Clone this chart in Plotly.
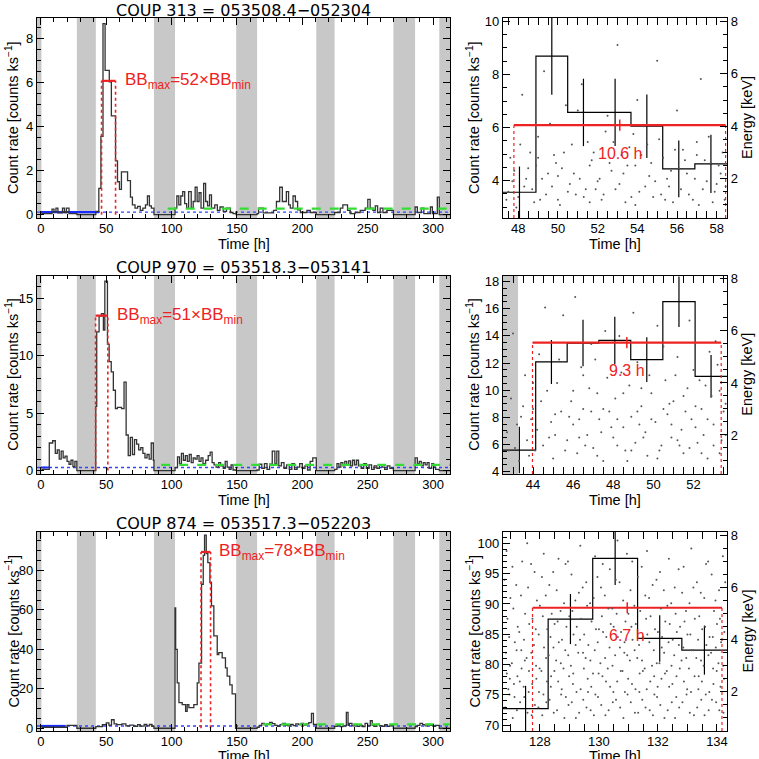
import plotly.graph_objects as go

# ------------------------------------------------------------------ data
gap_bands = [(-3.0, 0.4), (27.5, 42.0), (86.5, 102.6), (149.4, 165.4),
             (210.7, 224.7), (269.7, 286.3), (304.8, 313.0)]

titles = ["COUP 313 = 053508.4\u2212052304",
          "COUP 970 = 053518.3\u2212053141",
          "COUP 874 = 053517.3\u2212052203"]
bb_ratio = [52, 51, 78]
bb_max = [6.09, 13.5, 89.38]
# block limits as drawn on the zoomed (right) panels
bb_t1 = [47.78, 43.97, 127.75]
bb_t2 = [58.45, 53.38, 134.17]
# block limits as drawn on the full light curves (left panels)
bbL_t1 = [46.4, 41.8, 122.5]
bbL_t2 = [57.1, 51.2, 129.8]
bb_text_t = [62.6, 57.0, 135.0]
blue_end = [44.5, 6.4, 19.0]
green_level = [0.28, 0.5, 2.0]
green_start = [97.0, 92.0, 170.0]
dur_text = ["10.6 h", "9.3 h", "6.7 h"]

# COUP 313 light curve (block edges, rates)
lc313_t = [0.4, 8.5, 10, 11.5, 13, 16.5, 18, 19.5, 21.5, 27.5, 42.0, 44.3, 45.9, 47.5,
           49.1, 52.3, 53.9, 57.1, 58.6, 60.1, 61.6, 66.3, 68.5, 70, 72, 74, 76,
           78, 80, 81.5, 83, 84.5, 86.5, 102.6, 104, 105.5, 107, 108.5, 110, 111.5, 113,
           115, 116.5, 118, 119.5, 121, 122.5, 124.5, 126, 127.5, 129, 130.5, 133, 135,
           137, 139.5, 142, 145, 147, 149.4, 165.4, 166.5, 170, 178, 180.2, 182.7, 184.7,
           187.8, 189.5, 190.8, 192.9, 194.7, 196.4, 198.5, 203.5, 206.1, 210.7, 224.7,
           229, 231, 234.6, 236.6, 240.4, 244.3, 248.1, 250.1, 251.9, 254, 255.8, 257.6,
           259.6, 261.7, 264.7, 269.7, 286.3, 288, 291, 293, 298, 299.5, 303.3, 304.8, 313]
lc313_v = [0.05, 0.25, 0.12, 0.3, 0.08, 0.3, 0.1, 0.3, 0.05, 0, 0.15, 1.2, 3.56, 8.69,
           6.57, 6.05, 4.5, 2.45, 1.5, 1.15, 1.95, 1.55, 0.8, 0.45, 0.3, 0.38, 0.2,
           0.3, 0.45, 0.85, 0.4, 0.3, 0, 0.3, 0.85, 0.45, 0.85, 1.05, 0.5, 0.3, 1.05,
           0.3, 0.6, 1.25, 0.6, 1.0, 0.3, 1.42, 0.6, 0.4, 0.9, 0.3, 0.45, 0.2,
           0.35, 0.15, 0.3, 0.1, 0.05, 0, 0.05, 0.3, 0.08, 0.2, 0.6, 1.25, 0.6,
           1.05, 0.45, 0.3, 0.85, 0.6, 0.22, 0.1, 0.2, 0.1, 0, 0.1,
           0.3, 0.45, 0.2, 0.05, 0.1, 0.2, 0.3, 0.7, 0.3, 0.2, 0.4, 0.1,
           0.3, 0.1, 0.2, 0, 0.35, 0.1, 0.3, 0.05, 0.35, 0.05, 0.8, 0]

# COUP 970 light curve
lc970_t = [0.4, 6.4, 9, 11, 12.5, 14, 15.5, 17, 18.5, 20, 21.5, 23, 24.5, 26, 27.5, 42.0,
           42.7, 44.5, 46.3, 47.8, 48.9, 50.9, 52.2, 53.8, 55.4, 57.0, 58.5, 61.7,
           63.6, 65.2, 66.8, 68.4, 70, 71.6, 73.2, 74.8, 76.4, 78, 79.6, 81.2, 82.8, 84.4,
           86, 86.5, 102.6, 104.5, 106, 107.5, 109, 110.5, 112, 113.5, 115, 116.5, 118,
           119.5, 121, 122.5, 124, 126, 128, 129.5, 131, 132.5, 134, 136, 137.5, 139.5,
           141, 142.5, 144, 145.5, 147, 149.4, 165.4, 167, 169, 171, 173, 175, 177, 179,
           180.5, 182, 184, 186, 188, 190, 192, 194, 196, 198, 200, 202, 204, 206, 208,
           210.7, 224.7, 226.5, 228, 229.5, 231, 232.5, 234, 235.5, 237, 238.5, 240, 241.5,
           243, 245, 247, 249, 251, 253, 255, 257, 259, 261, 263, 265, 267, 269.7, 286.3,
           288, 289.5, 291, 292.5, 294, 295.5, 297, 299, 300.5, 302, 304.8, 313]
lc970_v = [0.1, 2.4, 2.6, 1.5, 1.8, 1.0, 1.7, 1.1, 1.25, 0.8, 0.55, 0.9, 0.35, 0.8, 0, 5.59,
           12.08, 13.47, 13.67, 12.25, 16.51, 11.02, 9.5, 8.6, 7.0, 5.4, 5.5,
           5.4, 7.7, 3.1, 1.3, 2.9, 1.4, 2.7, 2.3, 1.8, 2.0, 1.5, 1.1, 1.4, 1.0, 2.4,
           0.9, 0, 0.25, 1.2, 0.6, 1.5, 0.9, 1.3, 0.8, 1.4, 0.7, 1.1, 1.0,
           1.3, 0.8, 1.1, 0.6, 0.9, 1.3, 1.6, 0.7, 0.5, 0.3, 0.7, 0.4, 0.2,
           0.8, 0.3, 0.1, 0.5, 0.05, 0, 0.05, 0.55, 0.2, 0.6, 0.1, 0.55, 1.7, 0.6,
           1.7, 0.4, 0.7, 0.2, 0.5, 0.1, 0.6, 0.1, 0.3, 0.6, 0.2, 0.4, 0.05, 0.8, 1.1,
           0, 0.1, 0.6, 0.3, 0.7, 0.4, 0.8, 0.5, 0.85, 0.4, 0.9, 0.5, 0.9,
           0.4, 0.2, 0.6, 0.2, 0.5, 0.1, 0.4, 0.2, 0.5, 0.3, 0.1, 0.4, 0.2, 0, 1.1,
           0.6, 0.8, 0.4, 0.7, 0.5, 0.7, 0.2, 0.6, 0.3, 0.1, 0]

# COUP 874 light curve
lc874_t = [0.4, 20, 27.5, 42.0, 47, 50, 52, 54, 56, 58, 62, 65, 68, 71, 74, 76, 79, 81, 83,
           85, 86.5, 102.6, 103.1, 104.3, 105.6, 108.1, 110.7, 111.9, 113.2, 117, 119.6,
           120.9, 122.9, 124.2, 125.2, 126.5, 127.7, 129.3, 130.5, 132.3, 134.9, 136.1,
           138.7, 141.2, 142.5, 144.5, 146.3, 148.9, 165.4, 167, 169,
           171, 173, 175, 177, 179, 181, 183, 185, 187, 189, 191, 193, 195, 197, 199, 201,
           203, 205, 207, 208.5, 210.7, 224.7, 227, 229, 231, 233.7, 235, 236, 238, 240,
           242, 244, 246, 248, 250, 252, 253.5, 255, 257, 259, 261, 263, 265, 267, 269.7,
           286.3, 288, 290, 292, 294, 296, 298, 300, 302, 304.8, 313]
lc874_v = [0.5, 1.5, 0, 0.8, 1.8, 2.7, 1.6, 4.3, 2.2, 1.8, 2.2, 1.2, 1.6, 1.0, 1.8, 1.1,
           2.0, 1.2, 1.9, 1.0, 0, 61, 40, 23, 13, 12, 8.5, 12, 10.5, 12, 23,
           33, 73, 87.6, 97.9, 88.5, 84, 74, 62, 46.8, 37.4, 38.3,
           35.7, 30.6, 26.4, 22, 17.4, 0, 0.5, 1.5, 2.5,
           1.8, 2.2, 3.0, 2.3, 1.5, 1.0, 1.8, 2.5, 1.5, 1.2, 2.0, 1.3, 2.2, 1.8, 2.5, 1.6,
           2.2, 2.8, 7.5, 2.0, 0, 1.0, 1.5, 0.8, 1.2, 8.0, 1.5, 2.5, 1.2, 2.0,
           1.0, 1.5, 0.8, 2.5, 1.2, 3.8, 1.5, 1.0, 2.0, 1.3, 1.0, 1.8, 1.0, 1.5, 0,
           0.8, 1.5, 2.5, 1.8, 1.2, 2.0, 1.5, 1.0, 1.5, 0]

# Zoomed block light curves (edges, rates, 1-sigma errors)
z313_edges = [47.23, 48.89, 50.49, 52.08, 53.68, 55.28, 56.9, 58.52]
z313_rate = [3.56, 8.69, 6.57, 6.57, 6.05, 4.44, 4.63]
z313_err = [0.97, 1.45, 1.27, 1.27, 1.2, 1.07, 1.1]
z970_edges = [42.5, 44.13, 45.7, 47.28, 48.87, 50.47, 52.08, 53.67]
z970_rate = [5.59, 12.08, 13.47, 13.67, 12.25, 16.51, 11.02]
z970_err = [1.71, 1.62, 1.71, 1.74, 1.65, 1.86, 1.57]
z874_edges = [126.75, 128.28, 129.79, 131.31, 132.81, 134.34]
z874_rate = [72.75, 87.51, 97.52, 84.31, 82.39]
z874_err = [3.75, 4.13, 4.4, 3.83, 4.05]
zoom_gap = [None, (42.5, 43.25), None]

# photon arrival times [h] and energies [keV]
ev313 = [(47.4,1.2),(47.6,2.8),(47.9,0.9),(48.1,3.3),(48.3,1.7),(48.5,2.4),(48.8,1.1),(49.0,3.6),
         (49.2,2.0),(49.4,1.4),(49.6,4.1),(49.9,2.6),(50.1,1.0),(50.3,3.0),(50.6,1.8),(50.8,2.2),
         (51.0,4.6),(51.3,1.3),(51.5,3.4),(51.7,2.7),(52.0,1.9),(52.2,1.2),(52.4,3.8),(52.7,2.3),
         (52.9,1.6),(53.2,2.9),(53.4,1.1),(53.6,3.2),(53.9,2.5),(54.1,1.5),(54.3,4.0),(54.6,2.1),
         (54.8,1.3),(55.1,3.5),(55.3,2.8),(55.6,1.7),(55.8,1.1),(56.1,2.4),(56.3,3.1),(56.6,1.4),
         (56.9,2.0),(57.1,1.0),(57.4,2.7),(57.6,3.6),(57.9,1.5),(58.2,2.2),(58.4,1.2),(48.2,5.2),
         (49.3,6.1),(50.4,4.8),(51.2,5.6),(52.5,4.4),(53.0,7.1),(54.0,5.0),(55.0,6.5),(56.0,4.6),
         (57.2,5.8),(58.0,1.8),(49.8,2.9),(51.9,1.6),(53.8,3.7),(55.7,2.3),(57.7,2.6),(50.9,1.4),
         (52.1,2.0),(54.5,3.3),(47.7,1.9),(48.6,3.0),(50.0,2.1),(51.6,2.5),(52.8,3.4),(54.9,1.9),
         (56.4,2.7),(57.3,1.6),(58.3,3.0),(53.3,2.2),
         (47.5,1.5),(47.8,2.3),(48.0,1.3),(48.4,2.0),(48.7,1.6),(48.9,2.5),(49.1,1.2),(49.5,2.2),
         (49.7,1.7),(50.2,2.4),(50.5,1.5),(50.7,3.3),(51.1,2.0),(51.4,1.6),(51.8,3.0),(52.3,1.4),
         (52.6,2.6),(53.1,1.8),(53.5,2.5),(53.7,1.3),(54.2,2.9),(54.4,1.7),(54.7,2.6),(55.2,1.4),
         (55.5,2.0),(55.9,3.1),(56.2,1.6),(56.5,2.2),(56.8,1.2),(57.0,2.9),(57.5,1.9),(57.8,1.1),
         (58.1,2.5),(58.45,1.7),(50.0,1.2),(51.6,1.1),(53.9,1.0),(55.4,1.2),(57.0,3.4),(49.0,2.8)]
ev970 = [(42.7,2.1),(42.9,3.4),(43.1,1.5),(43.4,2.7),(43.6,4.3),(43.8,1.2),(44.0,3.0),(44.2,2.2),
         (44.3,5.1),(44.5,1.6),(44.7,3.7),(44.9,2.5),(45.0,1.1),(45.2,4.0),(45.4,2.9),(45.5,6.6),
         (45.7,1.8),(45.9,3.3),(46.0,2.4),(46.2,1.3),(46.4,4.6),(46.5,3.0),(46.7,2.0),(46.9,5.5),
         (47.0,1.5),(47.2,3.6),(47.3,2.6),(47.5,1.0),(47.7,4.2),(47.8,2.9),(48.0,1.9),(48.1,3.4),
         (48.3,5.8),(48.5,2.3),(48.6,1.4),(48.8,3.9),(48.9,2.7),(49.1,1.7),(49.2,4.8),(49.4,3.1),
         (49.6,2.1),(49.7,1.2),(49.9,3.6),(50.1,2.5),(50.2,6.2),(50.4,1.6),(50.6,4.1),(50.7,2.8),
         (50.9,1.9),(51.0,3.3),(51.2,5.0),(51.4,2.2),(51.5,1.3),(51.7,3.8),(51.9,2.6),(52.0,4.5),
         (52.2,1.7),(52.4,3.0),(52.5,2.0),(52.7,1.1),(52.9,3.5),(53.0,2.4),(53.2,4.7),(53.4,1.8),
         (53.5,2.9),(43.0,5.9),(44.6,6.9),(46.1,7.3),(47.6,6.0),(49.0,6.7),(50.5,5.4),(51.8,6.4),
         (53.1,5.6),(45.3,4.9),(48.4,4.4),(51.1,4.3),(52.8,5.2),(43.3,1.0),(44.1,1.4),(45.1,2.0),
         (45.8,2.7),(46.3,1.9),(46.8,3.8),(47.4,2.1),(48.2,2.6),(48.7,1.0),(49.3,2.4),(49.8,4.3),
         (50.3,1.4),(50.8,3.2),(51.3,1.6),(51.6,2.9),(52.1,2.3),(52.6,3.9),(53.3,1.3),(53.6,3.2),
         (47.1,4.9),
         (42.8,1.4),(43.2,2.4),(43.5,3.1),(43.7,1.8),(43.9,2.6),(44.4,3.3),(44.8,1.9),(45.1,2.8),
         (45.6,1.4),(46.0,3.7),(46.3,2.6),(46.6,1.6),(46.9,2.9),(47.2,1.2),(47.5,3.0),(47.9,2.3),
         (48.2,1.6),(48.5,3.6),(48.9,1.4),(49.2,2.9),(49.5,1.9),(49.9,2.6),(50.2,1.1),(50.5,3.0),
         (50.9,2.4),(51.2,1.8),(51.5,3.5),(51.8,1.5),(52.1,3.1),(52.4,1.3),(52.7,2.6),(53.0,1.6),
         (53.3,3.7),(53.6,2.0),(44.0,4.0),(46.5,4.3),(49.4,3.8),(52.3,4.1)]
ev874 = [(126.82,1.4),(126.88,2.7),(126.85,3.5),(126.9,4.8),(126.8,6.3),(126.87,7.4),(126.93,2.1),
         (127.08,1.0),(127.12,2.3),(127.05,3.1),(127.15,3.9),(127.1,5.2),(127.07,6.8),(127.14,1.8),
         (127.33,1.6),(127.38,2.9),(127.3,4.3),(127.36,5.7),(127.4,7.0),(127.32,2.4),(127.37,3.6),
         (127.58,1.2),(127.62,2.0),(127.55,3.3),(127.64,4.6),(127.6,6.0),(127.57,7.7),(127.63,2.8),
         (127.83,1.5),(127.88,2.5),(127.8,3.8),(127.86,4.4),(127.9,5.5),(127.82,6.6),(127.87,3.0),
         (128.08,1.1),(128.12,1.9),(128.05,2.8),(128.14,3.7),(128.1,4.9),(128.07,6.4),(128.13,7.3),
         (128.33,1.7),(128.38,2.6),(128.3,3.4),(128.36,4.1),(128.4,5.0),(128.32,6.1),(128.37,2.2),
         (128.58,1.3),(128.62,2.4),(128.55,3.2),(128.64,3.9),(128.6,4.7),(128.57,5.9),(128.63,7.1),
         (128.83,1.0),(128.88,1.8),(128.8,2.9),(128.86,3.6),(128.9,4.5),(128.82,5.4),(128.87,6.9),
         (129.08,1.6),(129.12,2.3),(129.05,3.0),(129.14,4.2),(129.1,5.1),(129.07,6.5),(129.13,2.7),
         (129.33,1.2),(129.38,2.1),(129.3,3.5),(129.36,4.0),(129.4,4.8),(129.32,5.8),(129.37,7.6),
         (129.58,1.4),(129.62,2.5),(129.55,3.3),(129.64,3.8),(129.6,5.3),(129.57,6.2),(129.63,2.0),
         (129.83,1.1),(129.88,1.9),(129.8,2.7),(129.86,3.6),(129.9,4.4),(129.82,5.6),(129.87,7.2),
         (130.08,1.5),(130.12,2.6),(130.05,3.1),(130.14,4.3),(130.1,4.9),(130.07,6.0),(130.13,6.9),
         (130.33,1.3),(130.38,2.2),(130.3,2.9),(130.36,3.7),(130.4,4.6),(130.32,5.2),(130.37,6.7),
         (130.58,1.7),(130.62,2.4),(130.55,3.4),(130.64,4.1),(130.6,5.0),(130.57,6.3),(130.63,7.8),
         (130.83,1.0),(130.88,2.0),(130.8,2.8),(130.86,3.5),(130.9,4.7),(130.82,5.5),(130.87,3.9),
         (131.08,1.6),(131.12,2.3),(131.05,3.2),(131.14,4.0),(131.1,4.5),(131.07,5.9),(131.13,7.0),
         (131.33,1.2),(131.38,2.7),(131.3,3.3),(131.36,3.8),(131.4,5.1),(131.32,6.4),(131.37,2.0),
         (131.58,1.4),(131.62,2.1),(131.55,2.9),(131.64,4.2),(131.6,4.8),(131.57,5.7),(131.63,7.4),
         (131.83,1.1),(131.88,1.9),(131.8,3.0),(131.86,3.6),(131.9,4.4),(131.82,6.1),(131.87,2.6),
         (132.08,1.5),(132.12,2.5),(132.05,3.1),(132.14,4.1),(132.1,5.2),(132.07,6.6),(132.13,3.7),
         (132.33,1.3),(132.38,2.2),(132.3,2.8),(132.36,3.9),(132.4,4.6),(132.32,5.3),(132.37,7.1),
         (132.58,1.0),(132.62,1.8),(132.55,3.4),(132.64,4.3),(132.6,5.0),(132.57,6.0),(132.63,2.6),
         (132.83,1.6),(132.88,2.4),(132.8,3.2),(132.86,3.7),(132.9,4.7),(132.82,5.8),(132.87,6.8),
         (133.08,1.2),(133.12,2.0),(133.05,2.9),(133.14,3.6),(133.1,4.2),(133.07,5.4),(133.13,7.5),
         (133.33,1.4),(133.38,2.6),(133.3,3.3),(133.36,4.0),(133.4,4.9),(133.32,6.2),(133.37,2.1),
         (133.58,1.1),(133.62,1.9),(133.55,3.0),(133.64,3.8),(133.6,4.5),(133.57,5.6),(133.63,6.9),
         (133.83,1.7),(133.88,2.3),(133.8,3.5),(133.86,4.1),(133.9,5.1),(133.82,6.5),(133.87,2.9),
         (134.08,1.3),(134.12,2.2),(134.05,3.1),(134.14,3.9),(134.1,4.8),(134.07,5.9),(134.2,7.2),
         (126.97,1.9),(126.99,3.0),(126.96,4.1),(127.0,5.6),(126.98,2.5),
         (127.22,1.3),(127.24,2.6),(127.21,3.6),(127.25,4.5),(127.2,6.1),
         (127.47,1.8),(127.49,3.2),(127.46,4.0),(127.5,5.0),(127.45,2.2),
         (127.72,1.1),(127.74,2.3),(127.71,3.5),(127.75,4.8),(127.7,6.9),
         (127.97,2.0),(127.99,2.9),(127.96,4.2),(128.0,5.3),(127.95,1.4),
         (128.22,1.6),(128.24,2.4),(128.21,3.3),(128.25,4.4),(128.2,5.7),
         (128.47,1.2),(128.49,2.8),(128.46,3.7),(128.5,4.6),(128.45,6.6),
         (128.72,1.9),(128.74,2.1),(128.71,3.1),(128.75,4.0),(128.7,5.1),
         (128.97,1.5),(128.99,2.6),(128.96,3.4),(129.0,4.9),(128.95,7.0),
         (129.22,1.0),(129.24,2.0),(129.21,3.8),(129.25,4.5),(129.2,5.5),
         (129.47,1.7),(129.49,2.9),(129.46,3.5),(129.5,4.2),(129.45,6.0),
         (129.72,1.3),(129.74,2.2),(129.71,3.2),(129.75,4.7),(129.7,5.4),
         (129.97,1.8),(129.99,2.7),(129.96,3.9),(130.0,4.4),(129.95,6.4),
         (130.22,1.1),(130.24,2.4),(130.21,3.3),(130.25,4.1),(130.2,5.7),
         (130.47,1.6),(130.49,2.0),(130.46,3.0),(130.5,4.5),(130.45,5.2),
         (130.72,1.4),(130.74,2.8),(130.71,3.7),(130.75,4.3),(130.7,6.2),
         (130.97,1.9),(130.99,2.5),(130.96,3.4),(131.0,5.0),(130.95,7.3),
         (131.22,1.2),(131.24,2.1),(131.21,3.6),(131.25,4.6),(131.2,5.3),
         (131.47,1.7),(131.49,2.8),(131.46,3.2),(131.5,4.1),(131.45,6.8),
         (131.72,1.3),(131.74,2.4),(131.71,3.9),(131.75,4.9),(131.7,5.6),
         (131.97,1.8),(131.99,2.2),(131.96,3.1),(132.0,4.3),(131.95,6.3),
         (132.22,1.0),(132.24,2.7),(132.21,3.5),(132.25,4.7),(132.2,5.9),
         (132.47,1.6),(132.49,2.3),(132.46,3.0),(132.5,4.0),(132.45,5.4),
         (132.72,1.4),(132.74,2.9),(132.71,3.8),(132.75,4.5),(132.7,6.7),
         (132.97,1.9),(132.99,2.1),(132.96,3.3),(133.0,4.2),(132.95,5.1),
         (133.22,1.1),(133.24,2.6),(133.21,3.6),(133.25,4.8),(133.2,6.0),
         (133.47,1.7),(133.49,2.4),(133.46,3.2),(133.5,4.4),(133.45,5.8),
         (133.72,1.3),(133.74,2.0),(133.71,3.4),(133.75,4.1),(133.7,7.0),
         (133.97,1.6),(133.99,2.8),(133.96,3.7),(134.0,4.6),(133.95,5.5),
         (134.22,1.2),(134.24,2.5),(134.21,3.0),(134.25,4.3),(134.28,6.2)]

# ------------------------------------------------------------------ styling
W = H = 759
FONT = "Liberation Sans"
TFONT = "DejaVu Sans"
TICKF = dict(family=FONT, size=13, color="black")
LABF = dict(family=FONT, size=14.5, color="black")
RED = "#ee2222"
GRAY_BAND = "#c8c8c8"
LINE = "#333333"


def px_x(p):
    return p / W


def px_y(p):
    return 1 - p / H


rows_px = [(18, 218), (275.5, 474), (532, 731)]
title_px = [0, 257, 513]
left_px = (37, 450)
right_px = (503, 727)
ytitle_x_px = [12, 473, 747]
xtitle_dy_px = [26, 26, 25]

left_x_range = [-3.0, 313.0]
left_y_range = [[-0.15, 8.95], [-0.3, 17.0], [-1.4, 99.5]]
left_y_dtick = [2, 5, 20]
left_y_minor = [0.5, 1, 5]
right_x_range = [[47.23, 58.52], [42.5, 53.67], [126.75, 134.34]]
right_y_range = [[2.59, 10.13], [3.83, 18.44], [69.05, 101.87]]
right_y_dtick = [2, 2, 5]
right_y_minor = [0.5, 0.5, 1]
right_x_dtick = [2, 2, 2]
energy_range = [0.5, 8.13]

zoom_edges = [z313_edges, z970_edges, z874_edges]
zoom_rate = [z313_rate, z970_rate, z874_rate]
zoom_err = [z313_err, z970_err, z874_err]
events = [ev313, ev970, ev874]
lc_t = [lc313_t, lc970_t, lc874_t]
lc_v = [lc313_v, lc970_v, lc874_v]

fig = go.Figure()
layout = dict(width=W, height=H, margin=dict(l=0, r=0, t=0, b=0), template="none",
              paper_bgcolor="white", plot_bgcolor="white", showlegend=False,
              font=dict(family=FONT, color="black"))
shapes = []
annotations = []


def ax_common(rng, dtick, minor, tick0=0):
    return dict(range=rng, dtick=dtick, tick0=tick0, ticks="inside", ticklen=7,
                tickwidth=1, tickcolor="black", automargin=False,
                minor=dict(ticks="inside", ticklen=3.5, dtick=minor, tick0=tick0,
                           tickcolor="black", showgrid=False),
                showline=True, linecolor="black", linewidth=1.3, showgrid=False,
                zeroline=False, tickfont=TICKF)


def label(x_px, y_px, text, angle=0):
    annotations.append(dict(x=px_x(x_px), y=px_y(y_px), xref="paper", yref="paper",
                            xanchor="center", yanchor="middle", showarrow=False,
                            textangle=angle, text=text, font=LABF))


for i in range(3):
    y0p, y1p = rows_px[i]
    ydom = [px_y(y1p), px_y(y0p)]
    ymid = (y0p + y1p) / 2
    xl = 2 * i + 1
    xr = 2 * i + 2
    yl = 3 * i + 1
    yr = 3 * i + 2
    ye = 3 * i + 3
    xl_n = "x" if xl == 1 else f"x{xl}"
    xr_n = f"x{xr}"
    yl_n = "y" if yl == 1 else f"y{yl}"
    yr_n = f"y{yr}"
    ye_n = f"y{ye}"

    xa = ax_common(left_x_range, 50, 10)
    xa.update(domain=[px_x(left_px[0]), px_x(left_px[1])], anchor=yl_n, mirror="allticks",
              ticklabelstandoff=-2)
    ya = ax_common(left_y_range[i], left_y_dtick[i], left_y_minor[i])
    ya.update(domain=ydom, anchor=xl_n, mirror="allticks")
    layout["xaxis" if xl == 1 else f"xaxis{xl}"] = xa
    layout["yaxis" if yl == 1 else f"yaxis{yl}"] = ya

    xb = ax_common(right_x_range[i], right_x_dtick[i], 0.5)
    xb.update(domain=[px_x(right_px[0]), px_x(right_px[1])], anchor=yr_n, mirror="allticks",
              ticklabelstandoff=-2)
    yb = ax_common(right_y_range[i], right_y_dtick[i], right_y_minor[i])
    yb.update(domain=ydom, anchor=xr_n, mirror=False)
    yc = ax_common(energy_range, 2, 0.5)
    yc.update(overlaying=yr_n, side="right", anchor=xr_n)
    layout[f"xaxis{xr}"] = xb
    layout[f"yaxis{yr}"] = yb
    layout[f"yaxis{ye}"] = yc

    # axis titles
    label((left_px[0] + left_px[1]) / 2, y1p + xtitle_dy_px[i], "Time [h]")
    label((right_px[0] + right_px[1]) / 2, y1p + xtitle_dy_px[i], "Time [h]")
    label(ytitle_x_px[0], ymid, "Count rate [counts ks<sup>\u22121</sup>]", -90)
    label(ytitle_x_px[1], ymid, "Count rate [counts ks<sup>\u22121</sup>]", -90)
    label(ytitle_x_px[2], ymid, "Energy [keV]", -90)

    for a, b in gap_bands:
        shapes.append(dict(type="rect", xref=xl_n, yref=f"{yl_n} domain", x0=a, x1=b,
                           y0=0, y1=1, fillcolor=GRAY_BAND, line=dict(width=0), layer="below"))
    if zoom_gap[i] is not None:
        shapes.append(dict(type="rect", xref=xr_n, yref=f"{yr_n} domain",
                           x0=zoom_gap[i][0], x1=zoom_gap[i][1], y0=0, y1=1,
                           fillcolor=GRAY_BAND, line=dict(width=0), layer="below"))

    bbmin = bb_max[i] / bb_ratio[i]
    fig.add_trace(go.Scatter(x=[left_x_range[0], left_x_range[1]], y=[bbmin, bbmin],
                             mode="lines", line=dict(color="#3344ff", width=1.3, dash="dot"),
                             xaxis=xl_n, yaxis=yl_n, hoverinfo="skip"))
    fig.add_trace(go.Scatter(x=[0, blue_end[i]], y=[bbmin, bbmin], mode="lines",
                             line=dict(color="#1a2bff", width=2.2),
                             xaxis=xl_n, yaxis=yl_n, hoverinfo="skip"))
    fig.add_trace(go.Scatter(x=lc_t[i], y=lc_v[i] + [lc_v[i][-1]], mode="lines",
                             line=dict(color=LINE, width=1.3, shape="hv"),
                             xaxis=xl_n, yaxis=yl_n, hoverinfo="skip"))
    fig.add_trace(go.Scatter(x=[green_start[i], left_x_range[1]],
                             y=[green_level[i], green_level[i]], mode="lines",
                             line=dict(color="#33dd33", width=2.2, dash="dash"),
                             xaxis=xl_n, yaxis=yl_n, hoverinfo="skip"))
    l1, l2, bm = bbL_t1[i], bbL_t2[i], bb_max[i]
    fig.add_trace(go.Scatter(x=[l1, l1, None, l2, l2], y=[0, bm, None, 0, bm], mode="lines",
                             line=dict(color=RED, width=1.6, dash="dot"),
                             xaxis=xl_n, yaxis=yl_n, hoverinfo="skip"))
    fig.add_trace(go.Scatter(x=[l1, l2], y=[bm, bm], mode="lines",
                             line=dict(color=RED, width=2.2),
                             xaxis=xl_n, yaxis=yl_n, hoverinfo="skip"))
    annotations.append(dict(x=bb_text_t[i], y=bm, xref=xl_n, yref=yl_n, xanchor="left",
                            yanchor="middle", showarrow=False,
                            text=f"BB<sub>max</sub>={bb_ratio[i]}\u00d7BB<sub>min</sub>",
                            font=dict(family=FONT, size=17, color=RED)))
    annotations.append(dict(x=(px_x(left_px[0]) + px_x(left_px[1])) / 2,
                            y=px_y(title_px[i]), xref="paper", yref="paper",
                            xanchor="center", yanchor="top", showarrow=False, borderpad=0,
                            text=titles[i], font=dict(family=TFONT, size=16, color="black")))

    ev_t = [p[0] for p in events[i]]
    ev_e = [p[1] for p in events[i]]
    fig.add_trace(go.Scatter(x=ev_t, y=ev_e, mode="markers",
                             marker=dict(color="#555555", size=2.0, line=dict(width=0)),
                             xaxis=xr_n, yaxis=ye_n, hoverinfo="skip"))
    ed, rt, er = zoom_edges[i], zoom_rate[i], zoom_err[i]
    fig.add_trace(go.Scatter(x=ed, y=rt + [rt[-1]], mode="lines",
                             line=dict(color="black", width=1.2, shape="hv"),
                             xaxis=xr_n, yaxis=yr_n, hoverinfo="skip"))
    ex, ey = [], []
    for k in range(len(rt)):
        c = (ed[k] + ed[k + 1]) / 2
        ex += [c, c, None]
        ey += [rt[k] - er[k], rt[k] + er[k], None]
    fig.add_trace(go.Scatter(x=ex, y=ey, mode="lines", line=dict(color="black", width=1.2),
                             xaxis=xr_n, yaxis=yr_n, hoverinfo="skip"))
    t1, t2 = bb_t1[i], bb_t2[i]
    ylo = right_y_range[i][0]
    fig.add_trace(go.Scatter(x=[t1, t1, None, t2, t2], y=[ylo, bm, None, ylo, bm],
                             mode="lines", line=dict(color=RED, width=1.2, dash="dot"),
                             xaxis=xr_n, yaxis=yr_n, hoverinfo="skip"))
    fig.add_trace(go.Scatter(x=[t1, t2], y=[bm, bm], mode="lines",
                             line=dict(color=RED, width=2.2),
                             xaxis=xr_n, yaxis=yr_n, hoverinfo="skip"))
    tc = (t1 + t2) / 2
    span = right_y_range[i][1] - right_y_range[i][0]
    fig.add_trace(go.Scatter(x=[tc, tc], y=[bm - 0.028 * span, bm + 0.028 * span],
                             mode="lines", line=dict(color=RED, width=1.5),
                             xaxis=xr_n, yaxis=yr_n, hoverinfo="skip"))
    annotations.append(dict(x=tc, y=bm - 0.14 * span, xref=xr_n, yref=yr_n,
                            xanchor="center", yanchor="middle", showarrow=False,
                            text=dur_text[i], font=dict(family=FONT, size=16, color=RED)))

layout["shapes"] = shapes
layout["annotations"] = annotations
fig.update_layout(**layout)
fig.write_html("out.html", config={"displayModeBar": False},
               post_script="document.body.style.margin='0px';")
